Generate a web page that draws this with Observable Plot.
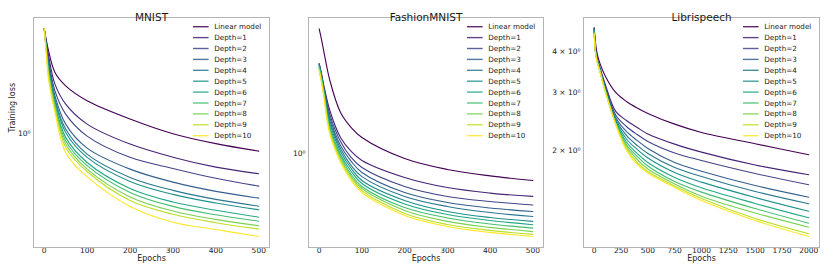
<!DOCTYPE html>
<html><head><meta charset="utf-8">
<script src="https://cdn.jsdelivr.net/npm/d3@7"></script>
<script src="https://cdn.jsdelivr.net/npm/@observablehq/plot@0.6"></script>
<style>
body{margin:0;background:#fff;}
#fig{position:relative;width:830px;height:273px;overflow:hidden;background:#fff;}
.panel{position:absolute;top:0;}
</style></head><body><div id="fig"></div>
<script>
const seriesNames = ["Linear model","Depth=1","Depth=2","Depth=3","Depth=4","Depth=5","Depth=6","Depth=7","Depth=8","Depth=9","Depth=10"];
const panelTitles = ["MNIST","FashionMNIST","Librispeech"];
const xLabelText = "Epochs";
const yLabelText = "Training loss";

const mnistEpochs = [0,5,10,25,50,100,200,300,400,500];
const mnistLoss = [
  [2.296,2.093,1.929,1.623,1.460,1.297,1.122,0.998,0.922,0.869],
  [2.296,2.060,1.858,1.479,1.262,1.077,0.919,0.828,0.765,0.726],
  [2.296,2.027,1.800,1.403,1.166,0.979,0.827,0.757,0.700,0.658],
  [2.296,1.995,1.743,1.349,1.077,0.890,0.753,0.679,0.631,0.598],
  [2.296,1.980,1.716,1.313,1.035,0.848,0.705,0.636,0.592,0.561],
  [2.296,1.964,1.689,1.297,1.008,0.827,0.683,0.616,0.575,0.545],
  [2.296,1.949,1.663,1.262,0.969,0.794,0.646,0.580,0.543,0.514],
  [2.296,1.933,1.636,1.246,0.944,0.774,0.626,0.560,0.524,0.498],
  [2.296,1.918,1.610,1.229,0.919,0.753,0.604,0.540,0.505,0.480],
  [2.296,1.902,1.585,1.213,0.895,0.739,0.587,0.526,0.492,0.468],
  [2.296,1.873,1.535,1.181,0.860,0.709,0.560,0.494,0.466,0.441]
];
const mnistXTicks = [0,100,200,300,400,500];
const mnistYTicks = [1];
const mnistYTickLabels = ["10⁰"];

const fashionEpochs = [0,5,10,25,50,75,100,200,300,400,500];
const fashionLoss = [
  [2.315,2.169,2.014,1.635,1.318,1.191,1.114,0.967,0.898,0.860,0.834],
  [1.829,1.725,1.602,1.336,1.114,1.014,0.954,0.851,0.795,0.766,0.749],
  [1.829,1.714,1.580,1.300,1.084,0.973,0.910,0.801,0.749,0.724,0.707],
  [1.829,1.702,1.570,1.274,1.055,0.948,0.880,0.769,0.719,0.693,0.677],
  [1.820,1.691,1.560,1.249,1.034,0.922,0.856,0.749,0.700,0.672,0.654],
  [1.808,1.680,1.549,1.224,1.014,0.904,0.834,0.729,0.677,0.650,0.633],
  [1.796,1.668,1.539,1.199,0.993,0.886,0.817,0.712,0.663,0.637,0.619],
  [1.784,1.657,1.529,1.183,0.980,0.868,0.801,0.695,0.648,0.622,0.605],
  [1.772,1.646,1.518,1.168,0.967,0.856,0.790,0.681,0.633,0.608,0.591],
  [1.760,1.635,1.508,1.152,0.954,0.845,0.779,0.668,0.620,0.596,0.580],
  [1.748,1.624,1.488,1.137,0.941,0.834,0.769,0.659,0.612,0.588,0.572]
];
const fashionXTicks = [0,100,200,300,400,500];
const fashionYTicks = [1];
const fashionYTickLabels = ["10⁰"];

const libriEpochs = [0,10,25,50,100,200,300,400,500,750,1000,1500,2000];
const libriLoss = [
  [4.706,4.318,3.971,3.702,3.380,3.000,2.818,2.693,2.592,2.404,2.268,2.096,1.940],
  [4.706,4.170,3.833,3.599,3.196,2.628,2.466,2.349,2.244,2.090,1.976,1.806,1.687],
  [4.706,4.111,3.806,3.574,3.151,2.564,2.365,2.236,2.130,1.965,1.864,1.702,1.573],
  [4.706,4.083,3.793,3.562,3.129,2.519,2.284,2.145,2.028,1.838,1.730,1.565,1.442],
  [4.664,4.054,3.780,3.549,3.107,2.484,2.221,2.071,1.958,1.775,1.667,1.501,1.377],
  [4.631,4.040,3.780,3.537,3.085,2.458,2.167,2.014,1.897,1.714,1.602,1.439,1.307],
  [4.598,4.026,3.767,3.525,3.074,2.441,2.122,1.958,1.838,1.655,1.540,1.380,1.248],
  [4.566,4.026,3.753,3.525,3.063,2.424,2.085,1.917,1.794,1.609,1.494,1.332,1.202],
  [4.550,4.026,3.753,3.512,3.052,2.415,2.057,1.877,1.757,1.582,1.452,1.291,1.169],
  [4.535,4.026,3.741,3.500,3.043,2.407,2.028,1.838,1.726,1.560,1.429,1.242,1.116],
  [4.512,4.026,3.727,3.500,3.043,2.399,2.000,1.813,1.708,1.543,1.409,1.225,1.095]
];
const libriXTicks = [0,250,500,750,1000,1250,1500,1750,2000];
const libriYTicks = [2,3,4];
const libriYTickLabels = ["2 × 10⁰","3 × 10⁰","4 × 10⁰"];

const colors = d3.quantize(d3.interpolateViridis, seriesNames.length);

const panels = [
  {title: panelTitles[0], epochs: mnistEpochs, loss: mnistLoss, xTicks: mnistXTicks, yTicks: mnistYTicks, yLabels: mnistYTickLabels,
   xDomain: [-25,525], yDomain: [0.404,2.512], left: 0, width: 277, ml: 33, mr: 8, ylab: true},
  {title: panelTitles[1], epochs: fashionEpochs, loss: fashionLoss, xTicks: fashionXTicks, yTicks: fashionYTicks, yLabels: fashionYTickLabels,
   xDomain: [-25,525], yDomain: [0.531,2.499], left: 277, width: 271, ml: 31, mr: 5, ylab: false},
  {title: panelTitles[2], epochs: libriEpochs, loss: libriLoss, xTicks: libriXTicks, yTicks: libriYTicks, yLabels: libriYTickLabels,
   xDomain: [-100,2100], yDomain: [1.014,5.07], left: 548, width: 282, ml: 35, mr: 11, ylab: false}
];

const fig = document.getElementById("fig");
const MT = 17, MB = 26, H = 273;

for (const p of panels) {
  const data = [];
  p.loss.forEach((row, i) => row.forEach((v, j) => data.push({series: seriesNames[i], epoch: p.epochs[j], loss: v})));
  const marks = [
    Plot.line(data, {x: "epoch", y: "loss", stroke: "series", z: "series", strokeWidth: 1.1, curve: "catmull-rom"}),
    Plot.frame({stroke: "#b5b5b5", strokeWidth: 1}),
    Plot.text([p.title], {frameAnchor: "top", dy: -3.6, fontSize: 10.5, text: d => d}),
    Plot.text([xLabelText], {frameAnchor: "bottom", dy: 13.2, fontSize: 8, text: d => d})
  ];
  if (p.ylab) marks.push(Plot.text([yLabelText], {frameAnchor: "left", dx: -21, rotate: -90, fontSize: 8, text: d => d}));
  const chart = Plot.plot({
    width: p.width, height: H, marginLeft: p.ml, marginRight: p.mr, marginTop: MT, marginBottom: MB,
    style: {fontFamily: "'DejaVu Sans', sans-serif", fontSize: "7.5px", color: "#1a1a1a", background: "transparent", overflow: "visible"},
    x: {domain: p.xDomain, ticks: p.xTicks, tickSize: 0, tickPadding: 0, tickFormat: d => String(d), label: null},
    y: {type: "log", domain: p.yDomain, ticks: p.yTicks, tickSize: 0, tickPadding: 3,
        tickFormat: d => p.yLabels[p.yTicks.indexOf(d)], label: null},
    color: {domain: seriesNames, range: colors},
    marks
  });
  const wrap = document.createElement("div");
  wrap.className = "panel";
  wrap.style.left = p.left + "px";
  wrap.appendChild(chart);
  fig.appendChild(wrap);

  // legend
  const svg = d3.select(chart.tagName.toLowerCase() === "svg" ? chart : chart.querySelector("svg"));
  const g = svg.append("g").attr("font-family", "'DejaVu Sans', sans-serif").attr("font-size", 7.2)
    .attr("fill", "#1a1a1a").attr("text-anchor", "start");
  const xr = p.width - p.mr;
  seriesNames.forEach((n, i) => {
    const y = 26.7 + 10.9 * i;
    g.append("line").attr("x1", xr - 76).attr("x2", xr - 60.4).attr("y1", y).attr("y2", y)
      .attr("stroke", colors[i]).attr("stroke-width", 1.4).attr("stroke-opacity", 0.85);
    g.append("text").attr("x", xr - 54.7).attr("y", y).attr("dy", "0.35em").attr("text-anchor", "start").text(n);
  });
}
</script></body></html>
